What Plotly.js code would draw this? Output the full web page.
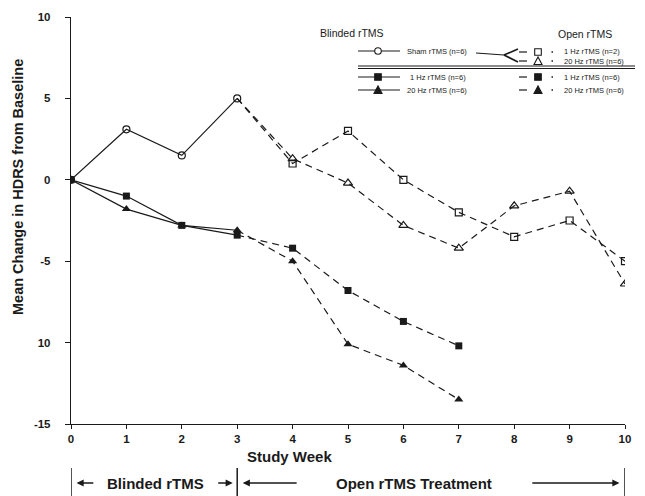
<!DOCTYPE html>
<html><head><meta charset="utf-8">
<script src="https://cdn.plot.ly/plotly-3.0.1.min.js"></script>
<style>html,body{margin:0;padding:0;background:#fff;}#chart{width:645px;height:496px;}</style>
</head><body><div id="chart"></div>
<script>
// ---- data ----
const blindWeeks = [0, 1, 2, 3];
const openWeeksLong = [3, 4, 5, 6, 7, 8, 9, 10];
const openWeeksShort = [3, 4, 5, 6, 7];
const shamBlinded = [0, 3.1, 1.5, 5.0];
const hz1Blinded = [0, -1.0, -2.8, -3.4];
const hz20Blinded = [0, -1.8, -2.8, -3.1];
const shamTo1HzOpen = [5.0, 1.0, 3.0, 0.0, -2.0, -3.5, -2.5, -5.0];
const shamTo20HzOpen = [5.0, 1.3, -0.2, -2.8, -4.2, -1.6, -0.7, -6.4];
const hz1Open = [-3.4, -4.2, -6.8, -8.7, -10.2];
const hz20Open = [-3.1, -5.0, -10.1, -11.4, -13.5];
const yTickVals = [-15, -10, -5, 0, 5, 10];
const yTickText = ['-15', '10', '-5', '0', '5', '10'];
const xTickVals = [0, 1, 2, 3, 4, 5, 6, 7, 8, 9, 10];

// ---- style ----
const INK = '#1a1a1a';
const FONT = 'Liberation Sans, Arial, sans-serif';
const DASH = '7px,5px';
const L = 71, R = 625, T = 17, B = 424;
const px = x => (x - L) / (R - L);
const py = y => (B - y) / (B - T);

function hideFirst(n) { return Array.from({length: n}, (_, i) => i === 0 ? 0 : 1); }

const traces = [
  {x: blindWeeks, y: shamBlinded, mode: 'lines+markers', name: 'Sham rTMS (n=6)',
   line: {color: INK, width: 1.2}, marker: {symbol: 'circle-open', size: 7, color: INK, line: {width: 1.2}}},
  {x: openWeeksLong, y: shamTo1HzOpen, mode: 'lines+markers', name: 'Open 1 Hz rTMS (n=2)',
   line: {color: INK, width: 1.2, dash: DASH}, marker: {symbol: 'square-open', size: 7, opacity: hideFirst(8), color: INK, line: {width: 1.2}}},
  {x: openWeeksLong, y: shamTo20HzOpen, mode: 'lines+markers', name: 'Open 20 Hz rTMS (n=6)',
   line: {color: INK, width: 1.2, dash: DASH}, marker: {symbol: 'triangle-up-open', size: 8, opacity: hideFirst(8), color: INK, line: {width: 1.2}}},
  {x: openWeeksShort, y: hz1Open, mode: 'lines+markers', name: 'Open 1 Hz rTMS (n=6)',
   line: {color: INK, width: 1.2, dash: DASH}, marker: {symbol: 'square', size: 7, opacity: hideFirst(5), color: INK, line: {color: INK, width: 0}}},
  {x: openWeeksShort, y: hz20Open, mode: 'lines+markers', name: 'Open 20 Hz rTMS (n=6)',
   line: {color: INK, width: 1.2, dash: DASH}, marker: {symbol: 'triangle-up', size: 8, opacity: hideFirst(5), color: INK, line: {color: INK, width: 0}}},
  {x: blindWeeks, y: hz20Blinded, mode: 'lines+markers', name: '20 Hz rTMS (n=6)',
   line: {color: INK, width: 1.2}, marker: {symbol: 'triangle-up', size: 8, color: INK}},
  {x: blindWeeks, y: hz1Blinded, mode: 'lines+markers', name: '1 Hz rTMS (n=6)',
   line: {color: INK, width: 1.2}, marker: {symbol: 'square', size: 7, color: INK}}
];

// ---- legend drawing (decoration in paper coords) ----
const shapes = [];
const annotations = [];
function pline(x0, y0, x1, y1, w, dash) {
  shapes.push({type: 'line', xref: 'paper', yref: 'paper', x0: px(x0), y0: py(y0), x1: px(x1), y1: py(y1),
    line: {color: INK, width: w || 1, dash: dash || 'solid'}});
}
function ptext(x, y, text, size, anchor, bold) {
  annotations.push({xref: 'paper', yref: 'paper', x: px(x), y: py(y), text: bold ? '<b>' + text + '</b>' : text,
    showarrow: false, xanchor: anchor || 'left', yanchor: 'middle', font: {family: FONT, size: size, color: INK}});
}
function pmarker(kind, cx, cy, filled) {
  const s = 3.3;
  const fill = filled ? INK : '#fff';
  if (kind === 'circle') {
    shapes.push({type: 'circle', xref: 'paper', yref: 'paper', x0: px(cx - s), x1: px(cx + s), y0: py(cy + s), y1: py(cy - s),
      line: {color: INK, width: 1.1}, fillcolor: fill});
  } else if (kind === 'square') {
    shapes.push({type: 'rect', xref: 'paper', yref: 'paper', x0: px(cx - s), x1: px(cx + s), y0: py(cy + s), y1: py(cy - s),
      line: {color: INK, width: 1.1}, fillcolor: fill});
  } else {
    const p = 'M' + px(cx - 4) + ',' + py(cy + 3.5) + ' L' + px(cx + 4) + ',' + py(cy + 3.5) + ' L' + px(cx) + ',' + py(cy - 4) + ' Z';
    shapes.push({type: 'path', xref: 'paper', yref: 'paper', path: p, line: {color: INK, width: 1.1}, fillcolor: fill});
  }
}
ptext(352, 33, 'Blinded rTMS', 10.5, 'center');
ptext(585, 34, 'Open rTMS', 10.5, 'center');
// blinded rows
const leftRows = [
  {y: 51, kind: 'circle', filled: false, label: 'Sham rTMS (n=6)', tx: 405},
  {y: 77, kind: 'square', filled: true, label: '1 Hz rTMS (n=6)', tx: 408},
  {y: 90, kind: 'triangle', filled: true, label: '20 Hz rTMS (n=6)', tx: 405}
];
leftRows.forEach(r => { pline(358, r.y, 400, r.y, 1.2); pmarker(r.kind, 378, r.y, r.filled); ptext(r.tx, r.y, r.label, 7.5); });
// open rows
const rightRows = [
  {y: 52, kind: 'square', filled: false, label: '1 Hz rTMS (n=2)'},
  {y: 61, kind: 'triangle', filled: false, label: '20 Hz rTMS (n=6)'},
  {y: 77, kind: 'square', filled: true, label: '1 Hz rTMS (n=6)'},
  {y: 90, kind: 'triangle', filled: true, label: '20 Hz rTMS (n=6)'}
];
rightRows.forEach(r => { pline(519, r.y, 527, r.y, 1.2); pmarker(r.kind, 538, r.y, r.filled); pline(551.5, r.y, 553, r.y, 1.5); ptext(562, r.y, r.label, 7.5); });
// bracket from sham to open rows
pline(476, 53, 504, 55, 1.2);
pline(504, 55, 518, 49, 1.6);
pline(504, 55, 518, 62, 1.6);
// separator
pline(358, 66, 635, 66, 1.2);
pline(358, 68.5, 635, 68.5, 1.2);

// ---- axis titles and bottom phase bar ----
annotations.push({xref: 'paper', yref: 'paper', x: px(18), y: py(187), text: '<b>Mean Change in HDRS from Baseline</b>',
  textangle: -90, showarrow: false, xanchor: 'center', yanchor: 'middle', font: {family: FONT, size: 14.5, color: INK}});
annotations.push({xref: 'paper', yref: 'paper', x: px(289), y: py(456), text: '<b>Study Week</b>',
  showarrow: false, xanchor: 'center', yanchor: 'middle', font: {family: FONT, size: 15, color: INK}});
const barY = py(483);
[0, 3, 10].forEach(w => shapes.push({type: 'line', xref: 'x', yref: 'paper', x0: w, x1: w, y0: py(468), y1: py(496),
  line: {color: INK, width: 1.5}}));
annotations.push({xref: 'x', yref: 'paper', x: 1.53, y: barY, text: '<b>Blinded rTMS</b>', showarrow: false,
  xanchor: 'center', yanchor: 'middle', font: {family: FONT, size: 15, color: INK}});
annotations.push({xref: 'x', yref: 'paper', x: 6.2, y: barY, text: '<b>Open rTMS Treatment</b>', showarrow: false,
  xanchor: 'center', yanchor: 'middle', font: {family: FONT, size: 15, color: INK}});
function arrow(head, tail) {
  annotations.push({xref: 'x', yref: 'paper', x: head, y: barY, axref: 'x', ax: tail, ayref: 'pixel', ay: 0, text: '',
    showarrow: true, arrowhead: 2, arrowsize: 1.1, arrowwidth: 1.3, arrowcolor: INK});
}
arrow(0.1, 0.43);
arrow(2.92, 2.63);
arrow(3.1, 4.1);
arrow(9.9, 8.3);

const layout = {
  width: 645, height: 496,
  margin: {l: L, r: 645 - R, t: T, b: 496 - B},
  paper_bgcolor: '#fff', plot_bgcolor: '#fff',
  showlegend: false,
  font: {family: FONT, color: INK},
  xaxis: {range: [0, 10], tickvals: xTickVals, ticks: 'outside', ticklen: 4, tickwidth: 1, tickcolor: INK,
    showline: true, linecolor: INK, linewidth: 1.2, showgrid: false, zeroline: false,
    tickfont: {family: FONT, size: 11.5, color: INK, weight: 'bold'}},
  yaxis: {range: [-15, 10], tickvals: yTickVals, ticktext: yTickText, ticks: 'outside', ticklen: 5, tickwidth: 1, tickcolor: INK,
    showline: true, linecolor: INK, linewidth: 1.2, showgrid: false, zeroline: false, ticklabelstandoff: 12,
    tickfont: {family: FONT, size: 11.5, color: INK, weight: 'bold'}},
  shapes: shapes,
  annotations: annotations
};
Plotly.newPlot('chart', traces, layout, {displayModeBar: false, staticPlot: true});
</script></body></html>
